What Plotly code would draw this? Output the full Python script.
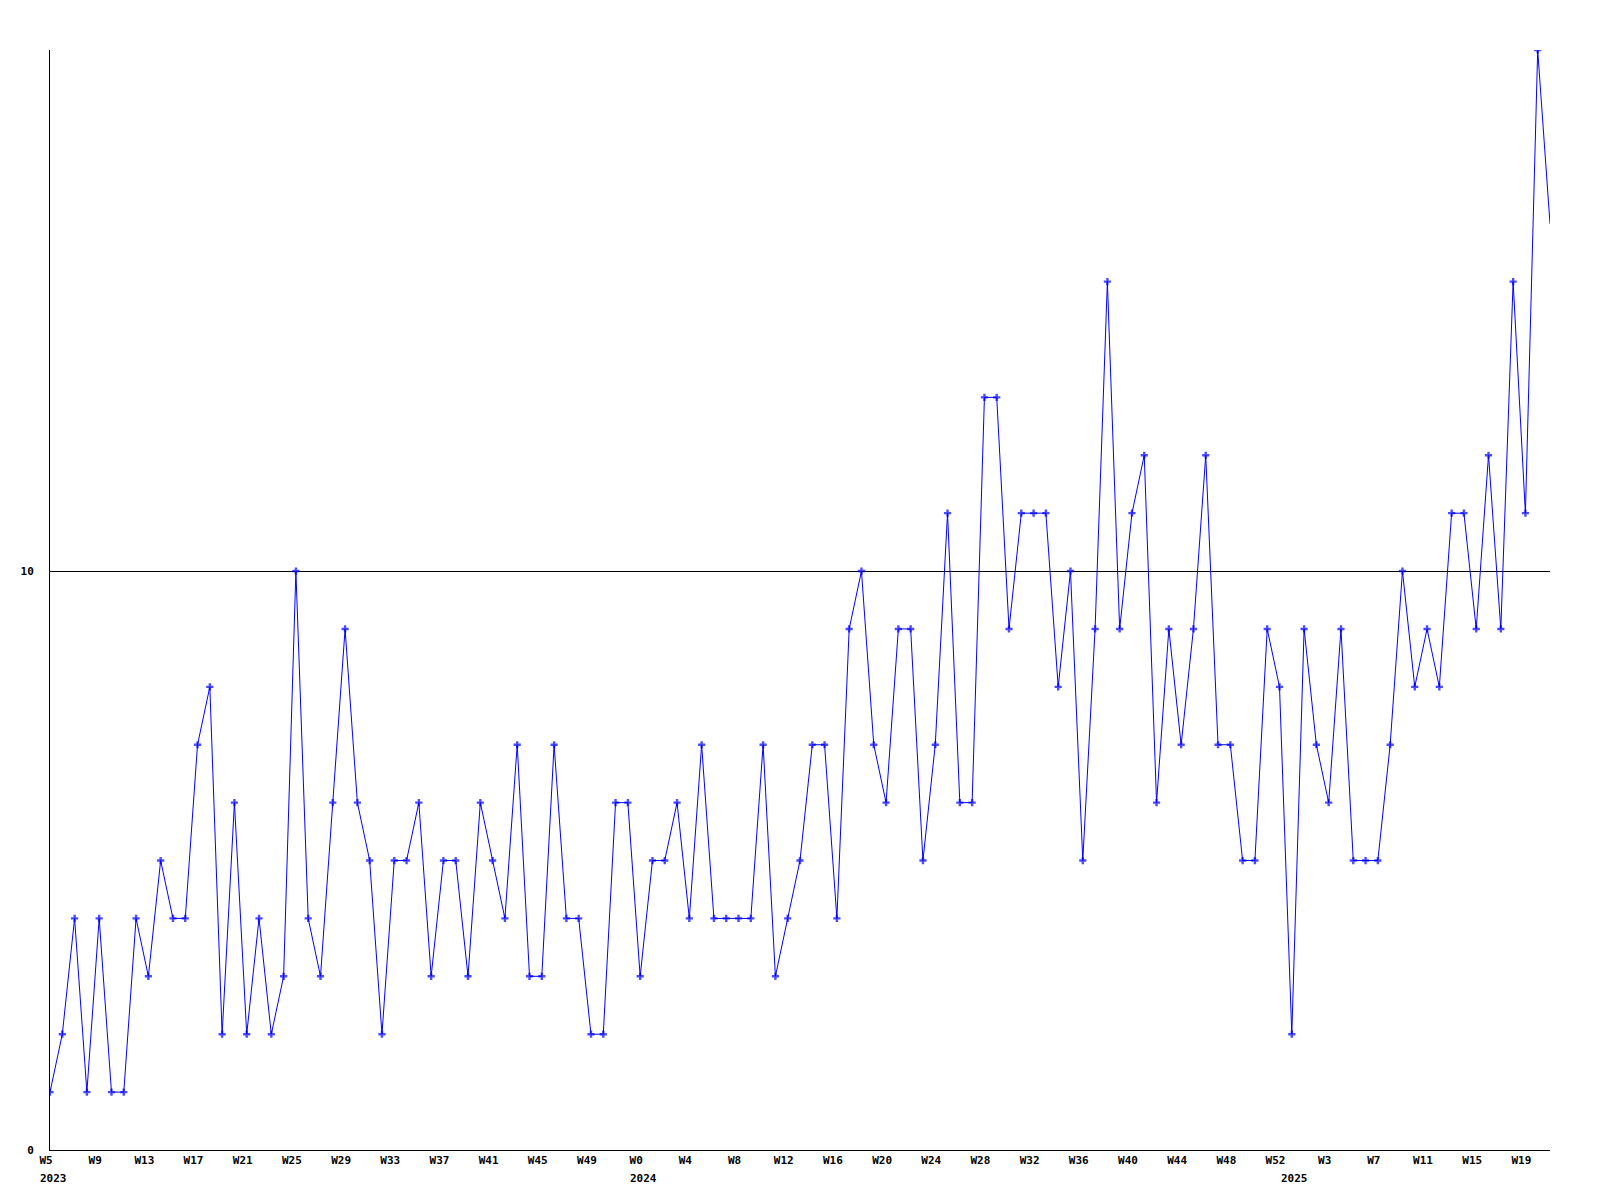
import plotly.graph_objects as go

# Weekly counts, 2023 W5 .. 2025 W21
years_2023_weeks = [f"W{w}" for w in range(5, 53)]
years_2024_weeks = [f"W{w}" for w in range(0, 53)]
years_2025_weeks = [f"W{w}" for w in range(0, 22)]
week_labels = years_2023_weeks + years_2024_weeks + years_2025_weeks

values = [
    1, 2, 4, 1, 4, 1, 1, 4, 3, 5,
    4, 4, 7, 8, 2, 6, 2, 4, 2, 3,
    10, 4, 3, 6, 9, 6, 5, 2, 5, 5,
    6, 3, 5, 5, 3, 6, 5, 4, 7, 3,
    3, 7, 4, 4, 2, 2, 6, 6, 3, 5,
    5, 6, 4, 7, 4, 4, 4, 4, 7, 3,
    4, 5, 7, 7, 4, 9, 10, 7, 6, 9,
    9, 5, 7, 11, 6, 6, 13, 13, 9, 11,
    11, 11, 8, 10, 5, 9, 15, 9, 11, 12,
    6, 9, 7, 9, 12, 7, 7, 5, 5, 9,
    8, 2, 9, 7, 6, 9, 5, 5, 5, 7,
    10, 8, 9, 8, 11, 11, 9, 12, 9, 15,
    11, 19, 16,
]

year_labels = ["2023", "2024", "2025"]
year_start_idx = [0, len(years_2023_weeks), len(years_2023_weeks) + len(years_2024_weeks)]

y_ticks = [0, 10]

x = list(range(len(values)))
tick_idx = list(range(0, len(values) - 1, 4))
tick_text = [week_labels[i] for i in tick_idx]

sizes = [6] * len(values)
sizes[-1] = 0

font = dict(family="DejaVu Sans Mono", size=11, color="black", weight="bold")

fig = go.Figure(
    go.Scatter(
        x=x,
        y=values,
        mode="lines+markers",
        line=dict(color="#0000ff", width=1),
        marker=dict(symbol="cross", size=sizes, color="#0000ff", line=dict(width=0)),
        hoverinfo="skip",
    )
)

for lbl, idx in zip(year_labels, year_start_idx):
    fig.add_annotation(
        x=idx, y=-0.0255, xref="x", yref="paper",
        text=lbl, showarrow=False, font=font,
        xanchor="center", yanchor="middle", xshift=3,
    )

fig.update_layout(
    width=1600,
    height=1200,
    margin=dict(l=42, r=58, t=42, b=58),
    paper_bgcolor="white",
    plot_bgcolor="white",
    showlegend=False,
    xaxis=dict(
        range=[0, len(values) - 1],
        tickvals=tick_idx,
        ticktext=tick_text,
        tickfont=font,
        ticks="",
        showgrid=False,
        zeroline=False,
        showline=True,
        linecolor="black",
        linewidth=1,
        tickangle=0,
        ticklabelshift=-4,
    ),
    yaxis=dict(
        range=[0, 19],
        tickvals=y_ticks,
        ticktext=[str(v) for v in y_ticks],
        tickfont=font,
        ticks="",
        showgrid=True,
        gridcolor="black",
        gridwidth=1,
        zeroline=False,
        showline=True,
        linecolor="black",
        linewidth=1,
        ticklabelstandoff=13,
    ),
)

fig.write_html("out.html")
